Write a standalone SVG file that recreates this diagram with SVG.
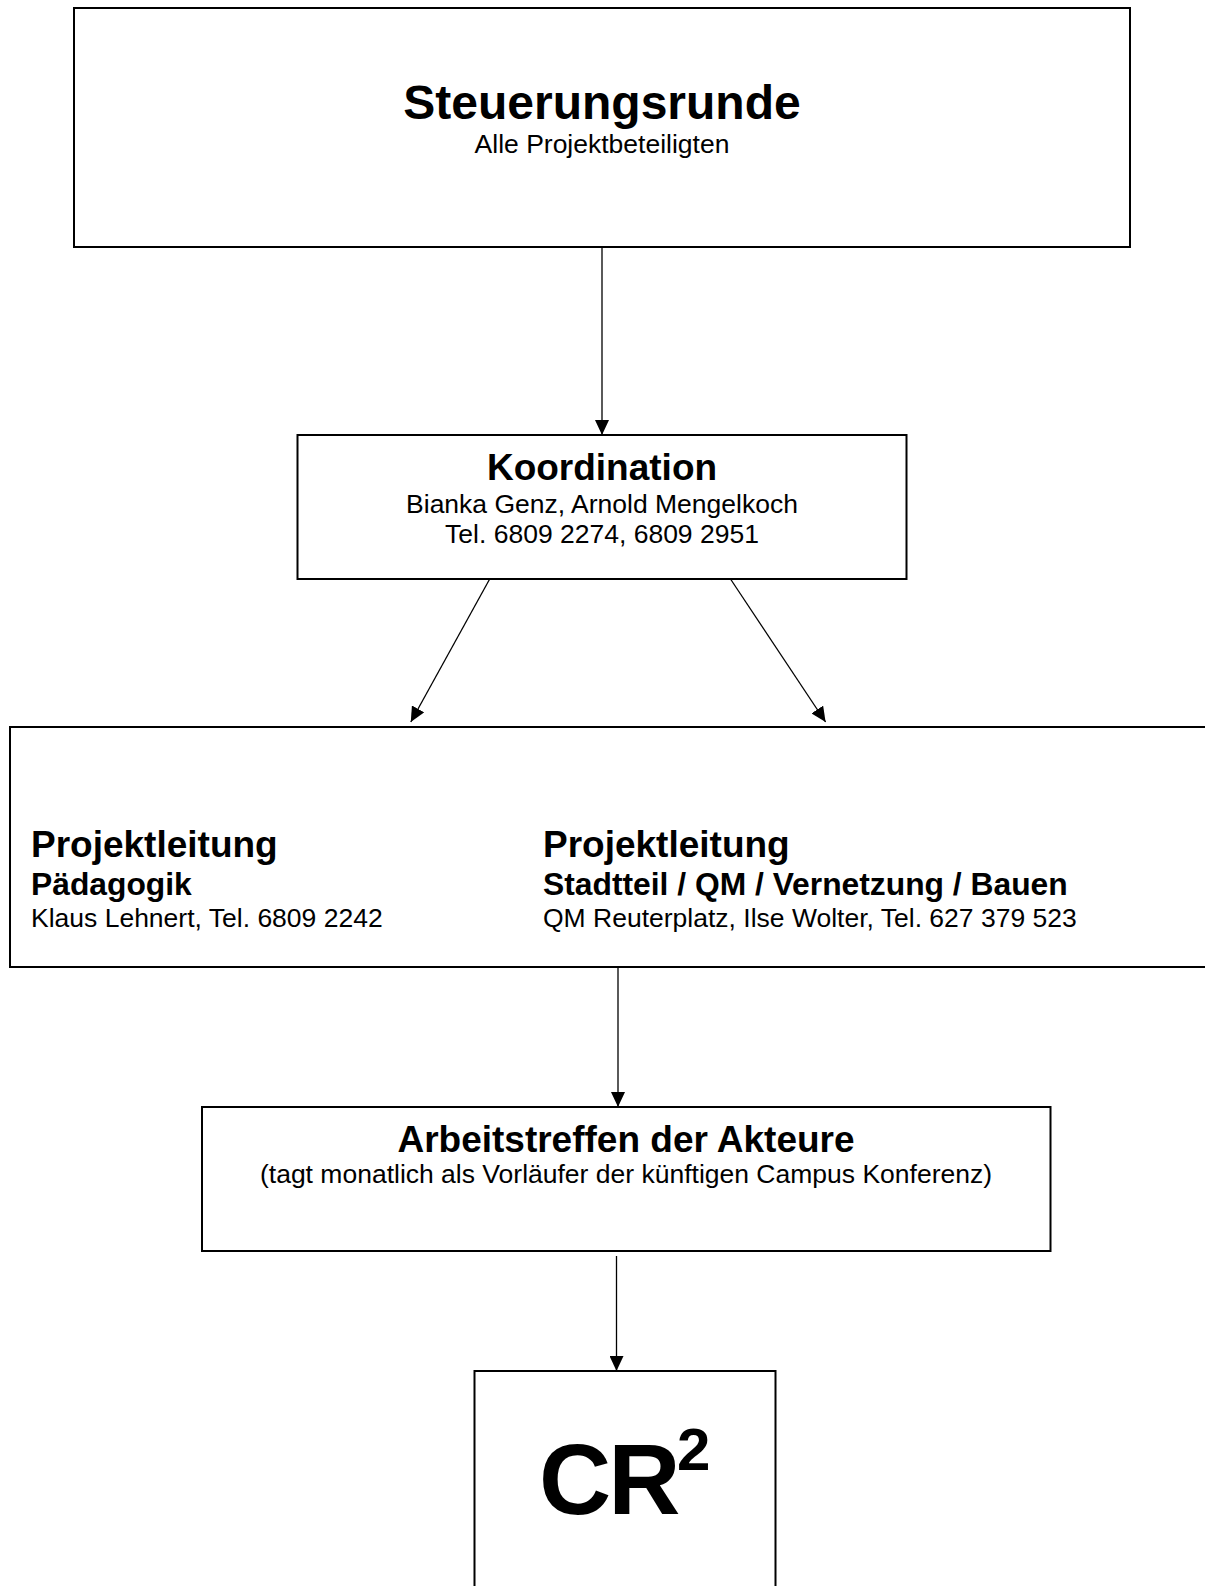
<svg xmlns="http://www.w3.org/2000/svg" width="1205" height="1586" viewBox="0 0 1205 1586">
<style>
.box{fill:#fff;stroke:#000;stroke-width:2}
.con{stroke:#000;stroke-width:1.3;fill:none}
.t{font-family:"Liberation Sans",Arial,sans-serif;fill:#000}
.b{font-weight:bold}
.h1{font-size:48px;font-weight:bold}
.h2{font-size:37px;font-weight:bold}
.h3{font-size:31.8px;font-weight:bold}
.n{font-size:26.5px}
.c{text-anchor:middle}
</style>
<defs>
<marker id="arr" viewBox="0 0 15 14" refX="15" refY="7" markerWidth="15" markerHeight="14" markerUnits="userSpaceOnUse" orient="auto">
<path d="M0,0 L15,7 L0,14 z" fill="#000"/>
</marker>
</defs>
<rect width="1205" height="1586" fill="#fff"/>
<g id="steuerungsrunde">
<rect class="box" x="74" y="8" width="1056" height="239"/>
<text class="t h1 c" x="602" y="119">Steuerungsrunde</text>
<text class="t n c" x="602" y="153">Alle Projektbeteiligten</text>
</g>
<g id="koordination">
<rect class="box" x="297.5" y="435" width="609" height="144"/>
<text class="t h2 c" x="602" y="480">Koordination</text>
<text class="t n c" x="602" y="513">Bianka Genz, Arnold Mengelkoch</text>
<text class="t n c" x="602" y="543">Tel. 6809 2274, 6809 2951</text>
</g>
<g id="projektleitung">
<rect class="box" x="10" y="727" width="1210" height="240"/>
<text class="t h2" x="31" y="857">Projektleitung</text>
<text class="t h3" x="31" y="895">Pädagogik</text>
<text class="t n" x="31" y="927">Klaus Lehnert, Tel. 6809 2242</text>
<text class="t h2" x="543" y="857">Projektleitung</text>
<text class="t h3" x="543" y="895">Stadtteil / QM / Vernetzung / Bauen</text>
<text class="t n" x="543" y="927">QM Reuterplatz, Ilse Wolter, Tel. 627 379 523</text>
</g>
<g id="arbeitstreffen">
<rect class="box" x="202" y="1107" width="848.5" height="144"/>
<text class="t h2 c" x="626" y="1152">Arbeitstreffen der Akteure</text>
<text class="t n c" x="626" y="1183">(tagt monatlich als Vorläufer der künftigen Campus Konferenz)</text>
</g>
<g id="cr2">
<rect class="box" x="474.5" y="1371" width="301" height="230"/>
<text class="t b" x="539" y="1514" font-size="100" letter-spacing="-3">CR</text>
<text class="t b" x="677" y="1470" font-size="60">2</text>
</g>
<g id="connectors">
<line class="con" x1="602" y1="247" x2="602" y2="435" marker-end="url(#arr)"/>
<line class="con" x1="489.7" y1="579" x2="410.8" y2="722" marker-end="url(#arr)"/>
<line class="con" x1="730.5" y1="579" x2="825.6" y2="722" marker-end="url(#arr)"/>
<line class="con" x1="618" y1="967" x2="618" y2="1107" marker-end="url(#arr)"/>
<line class="con" x1="616.5" y1="1256" x2="616.5" y2="1371" marker-end="url(#arr)"/>
</g>
</svg>
